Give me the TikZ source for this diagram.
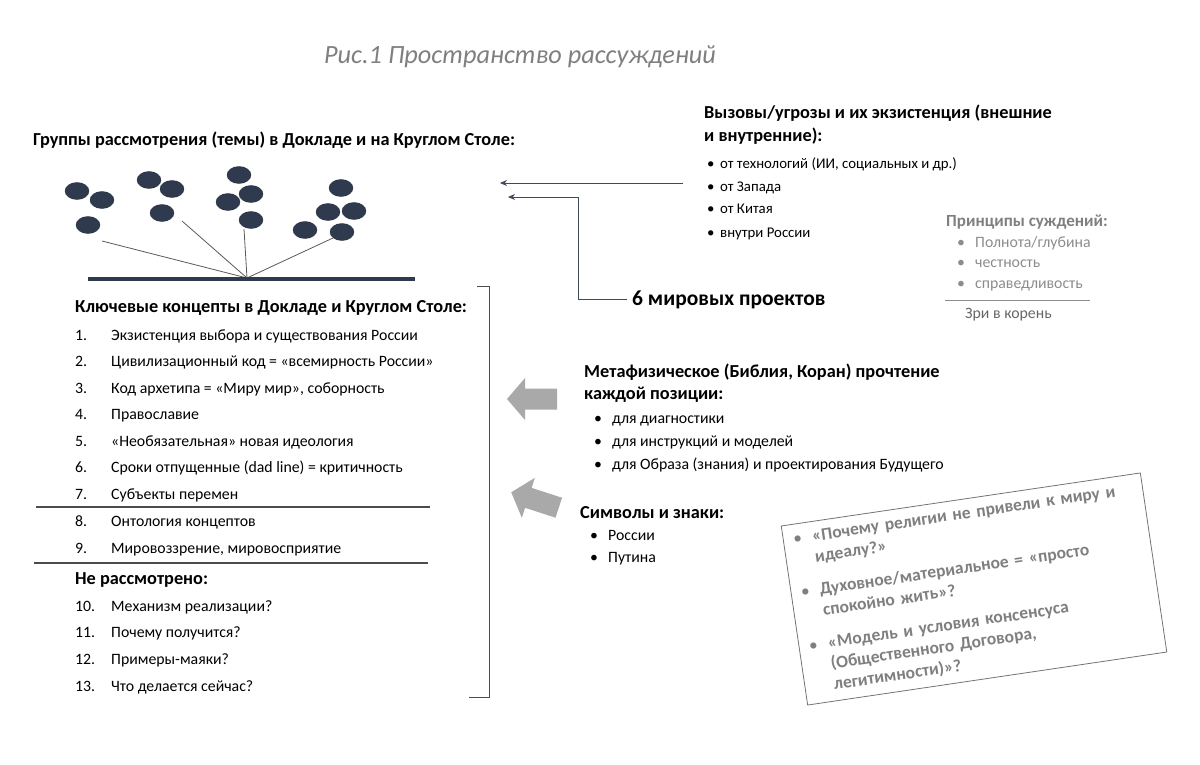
\documentclass[tikz,border=0pt]{standalone}
\usepackage{fontspec}
\setmainfont{Carlito}
\usetikzlibrary{shapes.geometric,arrows.meta}
\definecolor{navy}{HTML}{2F3A4F}
\definecolor{slate}{HTML}{404A5A}
\definecolor{capgray}{HTML}{7F7F7F}
\definecolor{softgray}{HTML}{8C8C8C}
\definecolor{arrgray}{HTML}{A9A9A9}
\begin{document}
\begin{tikzpicture}[x=1pt, y=-1pt,
  txt/.style={anchor=base west, inner sep=0pt, font=\fontsize{15.8}{19}\selectfont},
  sml/.style={anchor=base west, inner sep=0pt, font=\fontsize{14.8}{18}\selectfont},
  hd/.style={anchor=base west, inner sep=0pt, font=\fontsize{18.3}{22}\selectfont\bfseries},
  dot/.style={ellipse, draw=navy!80!black, fill=navy, minimum width=24pt, minimum height=17pt, inner sep=0pt},
  stem/.style={draw=black!65, line width=0.8pt},
  con/.style={draw=slate, line width=0.9pt, -{Stealth[length=7pt,width=6pt]}},
  sep/.style={draw=black!70, line width=1.1pt}]
\useasboundingbox (0,0) rectangle (1200,765);
% Заголовок
\node[font=\fontsize{26.3}{30}\selectfont\itshape, text=capgray] (title) at (520,57) {Рис.1 Пространство рассуждений};
% Группы рассмотрения: точки, стебли, основание
\node[hd] (grp) at (33,146) {Группы рассмотрения (темы) в Докладе и на Круглом Столе:};
\foreach \i/\x/\y in {1/77/191, 2/102/200, 3/88/225, 4/149/180, 5/172/189, 6/162/213, 7/239/175, 8/251/194,
  9/228/202, 10/251/220, 11/341/188, 12/328/212, 13/354/211, 14/305/230, 15/342/232}
  {\node[dot] (d\i) at (\x,\y) {};}
\coordinate (root) at (247,278);
\coordinate (s1) at (102,241); \coordinate (s2) at (182,221);
\coordinate (s3) at (244,229); \coordinate (s4) at (333,238);
\foreach \s in {s1,s2,s3,s4} \draw[stem] (root) -- (\s);
\draw[navy, line width=4pt] (88,279) -- (415,279);
% Вызовы/угрозы
\node[hd] (thr) at (704,119) {Вызовы/угрозы и их экзистенция (внешние};
\node[hd] (thr2) at (704,142) {и внутренние):};
\foreach \i/\t/\y in {1/{от технологий (ИИ, социальных и др.)}/163, 2/от Запада/186, 3/от Китая/209, 4/внутри России/232}
  {\node[sml] (th\i) at (707,\y+5) {\makebox[13pt][l]{•}\t};}
\coordinate (c1) at (683,183); \coordinate (a1) at (500,183);
\draw[con] (c1) -- (a1);
\node[hd, font=\fontsize{21.5}{25}\selectfont\bfseries] (proj) at (632,305) {6 мировых проектов};
\coordinate (k2) at (578,197); \coordinate (a2) at (508,197);
\draw[con] ([xshift=-5pt]proj.west) -| (k2) -- (a2);
% Принципы суждений
\node[hd, font=\fontsize{17}{20}\selectfont\bfseries, text=capgray] (prn) at (946,226) {Принципы суждений:};
\foreach \i/\t/\y in {1/{Полнота/глубина}/242, 2/честность/262, 3/справедливость/283}
  {\node[txt, text=softgray] (pr\i) at (957,\y+5) {\makebox[18pt][l]{•}\t};}
\draw[draw=black!45, line width=1pt] (945,300) -- (1090,300);
\node[txt, text=black!60] (root2) at (965,318) {Зри в корень};
% Ключевые концепты
\node[hd] (kc) at (75,312) {Ключевые концепты в Докладе и Круглом Столе:};
\foreach \n/\t/\y in {1/Экзистенция выбора и существования России/335,
  2/Цивилизационный код = «всемирность России»/361,
  3/{Код архетипа = «Миру мир», соборность}/388,
  4/Православие/414,
  5/«Необязательная» новая идеология/441,
  6/Сроки отпущенные (dad line) = критичность/467,
  7/Субъекты перемен/494,
  8/Онтология концептов/521,
  9/{Мировоззрение, мировосприятие}/548}
  {\node[txt] (k\n) at (75,\y+5) {\makebox[36pt][l]{\n.}\t};}
\draw[sep] (36,507) -- (430,507);
\draw[sep] (34,563) -- (428,563);
\node[hd] (nr) at (75,584) {Не рассмотрено:};
\foreach \n/\t/\y in {10/Механизм реализации?/606, 11/Почему получится?/632, 12/Примеры-маяки?/659, 13/Что делается сейчас?/686}
  {\node[txt] (n\n) at (75,\y+5) {\makebox[36pt][l]{\n.}\t};}
% скобка
\draw[draw=black!70, line width=1pt] (477,286) -- (489,286) -- (489,697) -- (469,697);
% серые стрелки
\foreach \x/\y/\r in {532/399/0, 535/500/-18}
  \fill[arrgray, shift={(\x,\y)}, rotate=\r] (-25,0) -- (-7,-21) -- (-7,-10.5) -- (25,-10.5)
    -- (25,10.5) -- (-7,10.5) -- (-7,21) -- cycle;
% Метафизическое прочтение
\node[hd] (mf) at (584,377) {Метафизическое (Библия, Коран) прочтение};
\node[hd] (mf2) at (584,399) {каждой позиции:};
\foreach \i/\t/\y in {1/для диагностики/418, 2/для инструкций и моделей/441, 3/для Образа (знания) и проектирования Будущего/464}
  {\node[txt] (mf\i) at (594,\y+5) {\makebox[18pt][l]{•}\t};}
% Символы и знаки
\node[hd] (sy) at (580,518) {Символы и знаки:};
\foreach \i/\t/\y in {1/России/535, 2/Путина/557}
  {\node[txt] (sy\i) at (590,\y+5) {\makebox[18pt][l]{•}\t};}
% Вопросы в повёрнутой рамке
\node[draw=black!55, line width=0.8pt, rotate=8.4, minimum width=363pt, minimum height=181pt,
  inner xsep=10pt, text width=343pt, align=left, text=capgray,
  font=\fontsize{17.5}{21}\selectfont\bfseries] (qs) at (974,589)
  {\makebox[19pt][l]{\normalfont•}«Почему религии не привели к миру и\\
   \hspace*{19pt}идеалу?»\\[12pt]
   \makebox[19pt][l]{\normalfont•}Духовное/материальное = «просто\\
   \hspace*{19pt}спокойно жить»?\\[12pt]
   \makebox[19pt][l]{\normalfont•}«Модель и условия консенсуса\\
   \hspace*{19pt}(Общественного Договора,\\
   \hspace*{19pt}легитимности)»?};
\end{tikzpicture}
\end{document}
